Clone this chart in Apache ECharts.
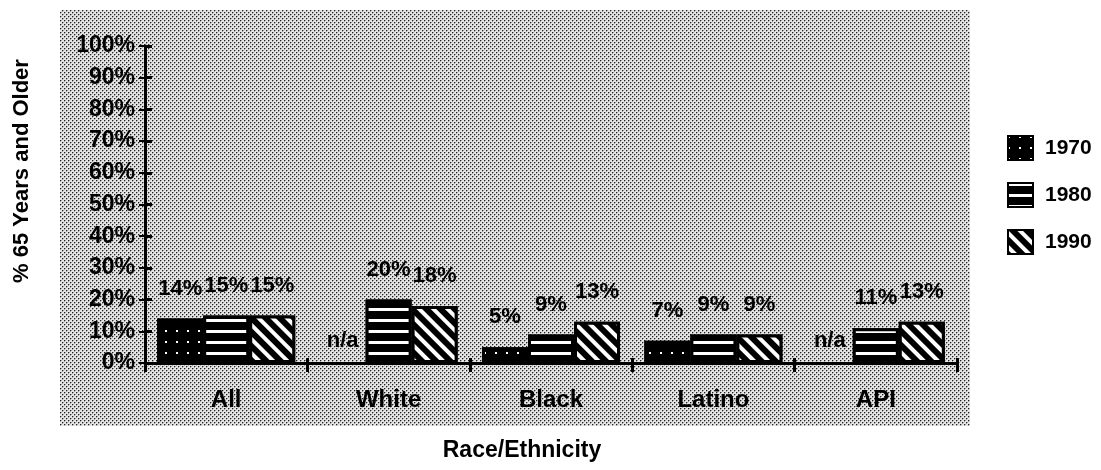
<!DOCTYPE html>
<html>
<head>
<meta charset="utf-8">
<script src="https://cdn.jsdelivr.net/npm/echarts@6/dist/echarts.min.js"></script>
<style>
  html, body { margin: 0; padding: 0; background: #fff; }
  #chart { width: 1101px; height: 470px; }
</style>
</head>
<body>
<div id="chart"></div>
<script>
// data
const categories = ['All', 'White', 'Black', 'Latino', 'API']
const years = ['1970', '1980', '1990']
const values1970 = [14, null, 5, 7, null]
const values1980 = [15, 20, 9, 9, 11]
const values1990 = [15, 18, 13, 9, 13]
const yTicks = [0, 10, 20, 30, 40, 50, 60, 70, 80, 90, 100]

const font = 'Liberation Sans, Arial, Helvetica, sans-serif'

// halftone-ish tile for the grey backdrop
const tile = document.createElement('canvas')
tile.width = 4
tile.height = 4
const tctx = tile.getContext('2d')
tctx.fillStyle = '#e4e4e4'
tctx.fillRect(0, 0, 4, 4)
tctx.fillStyle = '#a0a0a0'
tctx.fillRect(1, 0, 1, 1)
tctx.fillRect(0, 1, 1, 1)
tctx.fillRect(3, 2, 1, 1)
tctx.fillRect(2, 3, 1, 1)
tctx.fillStyle = '#202020'
tctx.fillRect(0, 0, 1, 1)
tctx.fillRect(2, 2, 1, 1)

const decals = [
    // sparse dots
    { color: '#fff', symbol: 'rect', symbolSize: 1, dashArrayX: [2, 8.5], dashArrayY: [2, 8.5] },
    // horizontal stripes
    { color: '#fff', symbol: 'rect', symbolSize: 1, dashArrayX: [1, 0], dashArrayY: [3, 7.5] },
    // diagonal stripes
    { color: '#fff', symbol: 'rect', symbolSize: 1, dashArrayX: [1, 0], dashArrayY: [4, 5.5], rotation: Math.PI / 4 },
]

function toData(arr) {
    return arr.map(v => {
        if (v === null) {
            return {
                value: 0,
                itemStyle: { borderWidth: 0 },
                label: { formatter: 'n/a', distance: 11 }
            }
        }
        return v
    })
}

const seriesValues = [values1970, values1980, values1990]

const chart = echarts.init(document.getElementById('chart'), null, { renderer: 'canvas' })

const option = {
    animation: false,
    backgroundColor: '#fff',
    textStyle: { fontFamily: font },
    graphic: [
        {
            type: 'rect',
            silent: true,
            z: -10,
            shape: { x: 60, y: 10, width: 910, height: 416 },
            style: { fill: { image: tile, repeat: 'repeat' } }
        },
        {
            type: 'text',
            silent: true,
            x: 22,
            y: 171,
            rotation: Math.PI / 2,
            style: {
                text: '% 65 Years and Older',
                font: 'bold 22px ' + font,
                fill: '#000',
                align: 'center',
                verticalAlign: 'middle'
            }
        },
        {
            type: 'text',
            silent: true,
            x: 522,
            y: 451,
            style: {
                text: 'Race/Ethnicity',
                font: 'bold 23px ' + font,
                fill: '#000',
                align: 'center',
                verticalAlign: 'middle'
            }
        }
    ],
    grid: {
        left: 145,
        right: 144,
        top: 46,
        bottom: 107,
        containLabel: false
    },
    legend: {
        orient: 'vertical',
        left: 1002,
        top: 130,
        itemWidth: 25,
        itemHeight: 24,
        itemGap: 21,
        icon: 'rect',
        data: years,
        textStyle: {
            fontFamily: font,
            fontWeight: 'bold',
            fontSize: 21,
            lineHeight: 24,
            color: '#000',
            padding: [0, 0, 0, 7]
        }
    },
    xAxis: [
        {
            type: 'category',
            data: categories,
            axisLine: { lineStyle: { color: '#000', width: 3 } },
            axisTick: { show: true, length: 9, lineStyle: { color: '#000', width: 3 } },
            axisLabel: { color: '#000', fontSize: 24, fontWeight: 'bold', fontFamily: font, margin: 25 },
            splitLine: { show: false }
        },
        {
            type: 'category',
            data: categories,
            position: 'bottom',
            axisLine: { show: false },
            axisTick: { show: true, inside: true, length: 5, lineStyle: { color: '#000', width: 3 } },
            axisLabel: { show: false },
            splitLine: { show: false }
        }
    ],
    yAxis: [
        {
            type: 'value',
            min: 0,
            max: 100,
            interval: 10,
            axisLine: { show: true, lineStyle: { color: '#000', width: 3 } },
            axisTick: { show: true, inside: true, length: 7, lineStyle: { color: '#000', width: 3 } },
            axisLabel: {
                color: '#000',
                fontSize: 23,
                fontWeight: 'bold',
                fontFamily: font,
                margin: 10,
                formatter: '{value}%'
            },
            splitLine: { show: false }
        },
        {
            type: 'value',
            min: 0,
            max: 100,
            interval: 10,
            position: 'left',
            axisLine: { show: false },
            axisTick: { show: true, length: 6, lineStyle: { color: '#000', width: 2 } },
            axisLabel: { show: false },
            splitLine: { show: false }
        }
    ],
    series: years.map((year, i) => ({
        name: year,
        type: 'bar',
        xAxisIndex: 0,
        yAxisIndex: 0,
        barGap: '0%',
        barCategoryGap: '15%',
        data: toData(seriesValues[i]),
        itemStyle: {
            color: '#000',
            borderColor: '#000',
            borderWidth: 3,
            decal: decals[i]
        },
        label: {
            show: true,
            position: 'top',
            distance: 19,
            color: '#000',
            fontSize: 22,
            fontWeight: 'bold',
            fontFamily: font,
            formatter: '{c}%'
        }
    }))
}

chart.setOption(option)
</script>
</body>
</html>
